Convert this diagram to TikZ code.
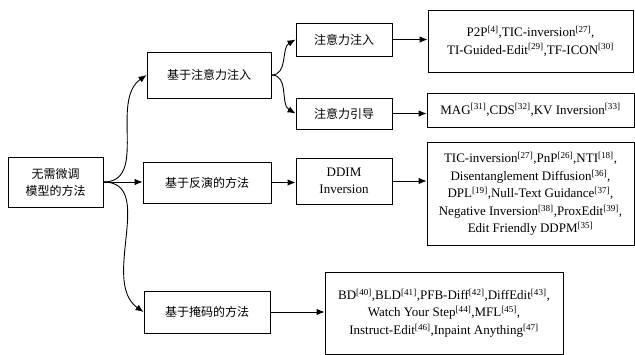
\documentclass[tikz,border=0pt]{standalone}
\usepackage{fontspec}
\usetikzlibrary{arrows.meta}
\setmainfont{Liberation Serif}
\newfontfamily\cjk{Noto Sans CJK SC}
\newcommand{\sref}[1]{\textsuperscript{[#1]}}
\begin{document}
\begin{tikzpicture}[x=1pt,y=-1pt,
  box/.style={draw,line width=0.9pt,align=center,inner sep=2pt,font=\fontsize{13}{17.5}\selectfont\rmfamily},
  cbox/.style={box,font=\fontsize{12}{17}\selectfont\cjk},
  arr/.style={->,>={Latex[length=8pt,width=6.5pt]},line width=0.9pt}]
\useasboundingbox (0,0) rectangle (635,355);
\node[cbox,minimum width=95pt,minimum height=50pt] (Root) at (55.5,182) {无需微调\\模型的方法};
\node[cbox,minimum width=124pt,minimum height=46pt] (Attn) at (209,75) {基于注意力注入};
\node[cbox,minimum width=128pt,minimum height=41pt] (Inv) at (207,182.5) {基于反演的方法};
\node[cbox,minimum width=126pt,minimum height=42pt] (Mask) at (207,312) {基于掩码的方法};
\node[cbox,minimum width=96pt,minimum height=33pt] (Inject) at (344,39.5) {注意力注入};
\node[cbox,minimum width=96pt,minimum height=31pt] (Guide) at (344,113.5) {注意力引导};
\node[box,minimum width=96pt,minimum height=46pt] (DDIM) at (344,181) {DDIM\\Inversion};
\node[box,minimum width=205pt,minimum height=62pt] (InjList) at (530.5,41) {P2P\sref{4},TIC-inversion\sref{27},\\TI-Guided-Edit\sref{29},TF-ICON\sref{30}};
\node[box,minimum width=207pt,minimum height=34pt] (GuideList) at (530.5,110) {MAG\sref{31},CDS\sref{32},KV Inversion\sref{33}};
\node[box,minimum width=207pt,minimum height=103pt] (InvList) at (530.5,194) {TIC-inversion\sref{27},PnP\sref{26},NTI\sref{18},\\Disentanglement Diffusion\sref{36},\\DPL\sref{19},Null-Text Guidance\sref{37},\\Negative Inversion\sref{38},ProxEdit\sref{39},\\Edit Friendly DDPM\sref{35}};
\node[box,minimum width=238pt,minimum height=82pt] (MaskList) at (444,313) {BD\sref{40},BLD\sref{41},PFB-Diff\sref{42},DiffEdit\sref{43},\\Watch Your Step\sref{44},MFL\sref{45},\\Instruct-Edit\sref{46},Inpaint Anything\sref{47}};
\draw[arr] (Root.east) to[out=0,in=215] (Attn.west);
\draw[arr] (Root.east) -- (Root.east -| Inv.west);
\draw[arr] (Root.east) to[out=0,in=145] (Mask.west);
\draw[arr] (Attn.east) to[out=0,in=210] (Inject.west);
\draw[arr] (Attn.east) to[out=0,in=150] (Guide.west);
\draw[arr] (Inject.east) -- (Inject.east -| InjList.west);
\draw[arr] (Guide.east) -- (Guide.east -| GuideList.west);
\draw[arr] (Inv.east) -- (Inv.east -| DDIM.west);
\draw[arr] (DDIM.east) -- (DDIM.east -| InvList.west);
\draw[arr] (Mask.east) -- (Mask.east -| MaskList.west);
\end{tikzpicture}
\end{document}
